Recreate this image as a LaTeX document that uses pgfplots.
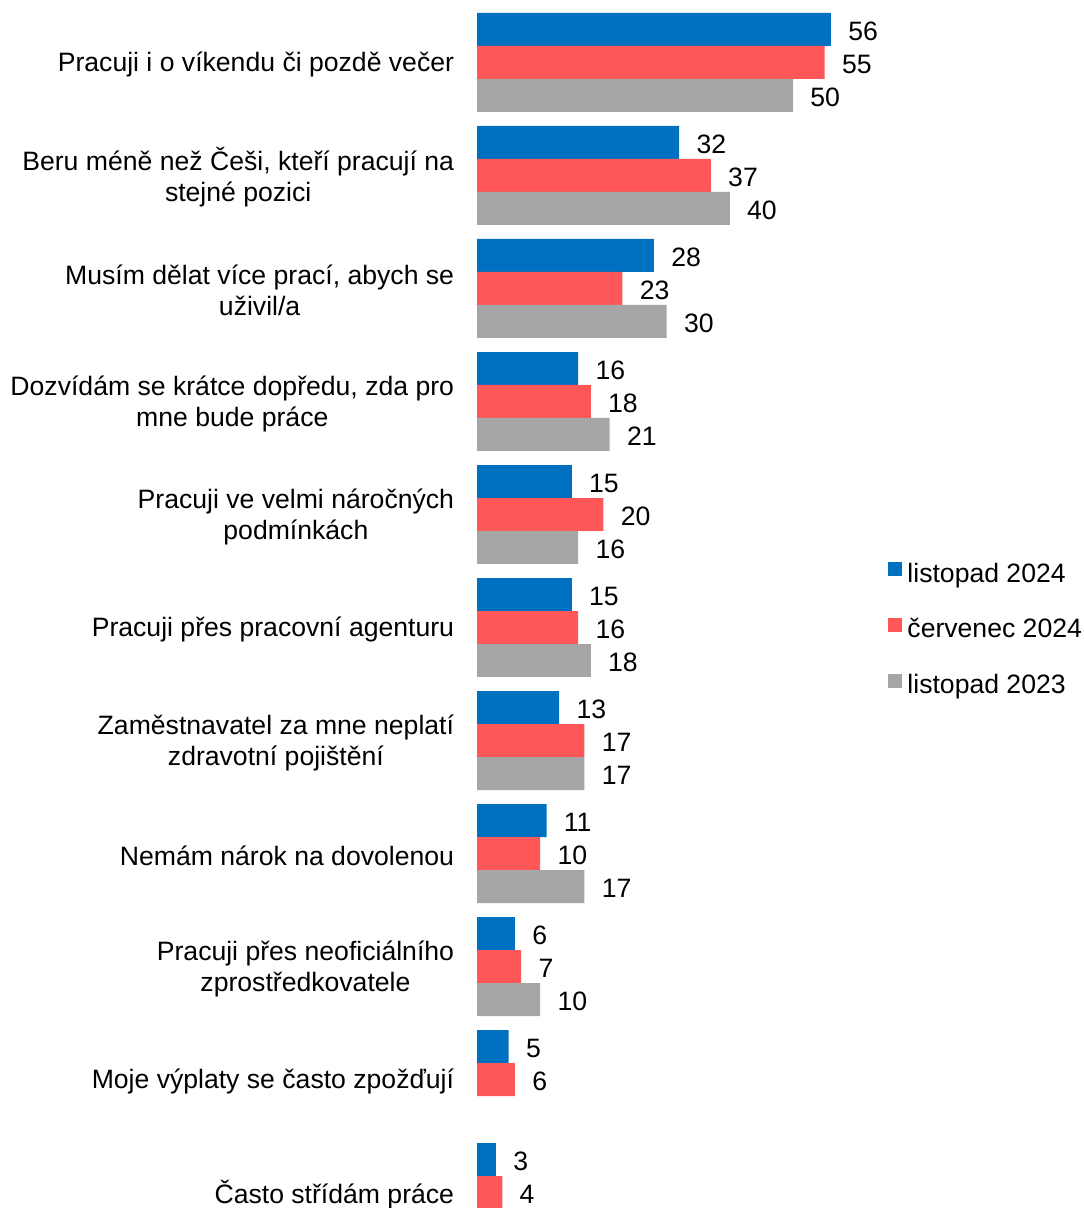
\documentclass[border=0pt]{standalone}
\usepackage{pgfplots}
\pgfplotsset{compat=1.18}
\usepackage{fontspec}
\setmainfont{Liberation Sans}
\definecolor{cblue}{HTML}{0070C0}
\definecolor{cred}{HTML}{FF5757}
\definecolor{cgray}{HTML}{A6A6A6}
\begin{document}
\begin{tikzpicture}
\useasboundingbox (0,0) rectangle (541.5pt,604pt);
\begin{axis}[
  at={(238.5pt,597.5pt)}, anchor=north west,
  scale only axis, width=189.6pt, height=598pt,
  xbar, xmin=0, xmax=60,
  ymin=-0.438, ymax=10.146, y dir=reverse,
  bar width=0.292,
  axis line style={draw=none}, tick style={draw=none},
  xtick=\empty,
  ytick={0,...,10},
  yticklabels={
    {Pracuji i o víkendu či pozdě večer},
    {Beru méně než Češi, kteří pracují na\\stejné pozici},
    {Musím dělat více prací, abych se\\uživil/a},
    {Dozvídám se krátce dopředu, zda pro\\mne bude práce},
    {Pracuji ve velmi náročných\\podmínkách},
    {Pracuji přes pracovní agenturu},
    {Zaměstnavatel za mne neplatí\\zdravotní pojištění},
    {Nemám nárok na dovolenou},
    {Pracuji přes neoficiálního\\zprostředkovatele},
    {Moje výplaty se často zpožďují},
    {Často střídám práce}},
  yticklabel style={align=center, anchor=east, inner sep=0pt, xshift=-7pt, yshift=-1pt,
    font=\fontsize{13.3}{15.5}\selectfont},
  clip=false,
  /pgf/number format/assume math mode=true,
  nodes near coords,
  every node near coord/.append style={font=\fontsize{13.3}{15.5}\selectfont,
    anchor=west, inner sep=0pt, xshift=8.5pt, yshift=-1pt, text=black},
  legend style={at={(axis description cs:1.084,0.4835)}, anchor=west,
    draw=none, fill=none, inner sep=0pt, row sep=15.1pt,
    font=\fontsize{13.3}{15.5}\selectfont,
    nodes={inner sep=0pt, text height=9.6pt, text depth=2.8pt},
    cells={anchor=west},
    /tikz/every odd column/.append style={column sep=2.5pt}},
  legend image code/.code={\fill[#1] (0pt,-0.5pt) rectangle (7pt,6.5pt);},
]
\addplot[fill=cblue, draw=none, bar shift=-0.292] coordinates {
(56,0) (32,1) (28,2) (16,3) (15,4) (15,5) (13,6) (11,7) (6,8) (5,9) (3,10)};
\addlegendentry{listopad 2024}
\addplot[fill=cred, draw=none, bar shift=0] coordinates {
(55,0) (37,1) (23,2) (18,3) (20,4) (16,5) (17,6) (10,7) (7,8) (6,9) (4,10)};
\addlegendentry{červenec 2024}
\addplot[fill=cgray, draw=none, bar shift=0.292] coordinates {
(50,0) (40,1) (30,2) (21,3) (16,4) (18,5) (17,6) (17,7) (10,8)};
\addlegendentry{listopad 2023}
\end{axis}
\end{tikzpicture}
\end{document}
